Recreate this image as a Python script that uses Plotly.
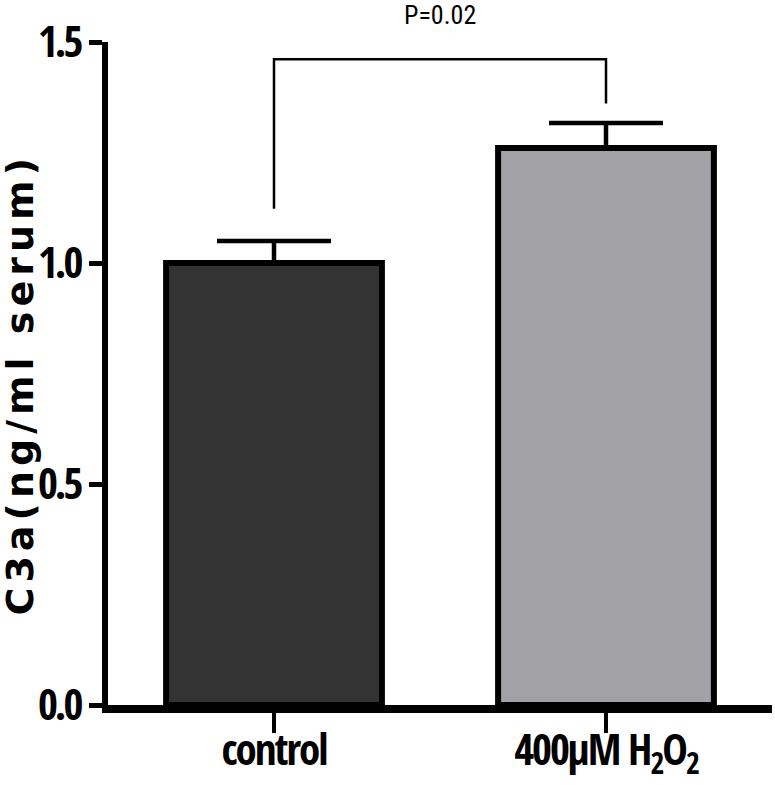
import plotly.graph_objects as go

# ---- data ----
categories = ["control", "400µM H<sub>2</sub>O<sub>2</sub>"]
means = [1.00, 1.26]
sem_up = [0.05, 0.057]
bar_colors = ["#333333", "#a2a1a6"]

y_tickvals = [0.0, 0.5, 1.0, 1.5]
y_ticktext = ["0.0", "0.5", "1.0", "1.5"]

bracket_x = [0, 0, 1, 1]
bracket_y = [1.123, 1.461, 1.461, 1.361]
p_label = "P=0.02"
y_title = "C3a(ng/ml serum)"

COND = "Open Sans Condensed, Roboto Condensed, Liberation Sans, Arial, sans-serif"


def tight(t, ls=-3):
    return f'<span style="letter-spacing:{ls}px">{t}</span>'


fig = go.Figure()
fig.add_trace(go.Bar(
    x=[0, 1], y=means, width=0.65,
    marker=dict(color=bar_colors, line=dict(color="black", width=6)),
    error_y=dict(type="data", symmetric=False, array=sem_up,
                 arrayminus=[0, 0], color="black", thickness=4.5, width=57),
    showlegend=False, hoverinfo="skip",
))
fig.add_trace(go.Scatter(
    x=bracket_x, y=bracket_y, mode="lines",
    line=dict(color="black", width=2.5), showlegend=False, hoverinfo="skip",
))

fig.add_annotation(
    x=0.5, xref="x", y=1.04, yref="paper", text=p_label,
    showarrow=False, xanchor="center", yanchor="middle",
    font=dict(family="Roboto Condensed, Liberation Sans, Arial", size=26, color="black"),
)
fig.add_annotation(
    x=-0.132, xref="paper", y=0.484, yref="paper",
    text=f'<span style="letter-spacing:5px">{y_title}</span>',
    textangle=-90, showarrow=False, xanchor="center", yanchor="middle",
    font=dict(family="DejaVu Sans", size=38, color="black", weight="bold"),
)

tick_font = dict(family=COND, size=43, color="black", weight="bold")

fig.update_xaxes(
    range=[-0.5, 1.5], tickvals=[0, 1], ticktext=[tight(c, -2) for c in categories],
    showline=True, linecolor="black", linewidth=8,
    ticks="outside", ticklen=20, tickwidth=4, tickcolor="black",
    tickfont=tick_font, showgrid=False, zeroline=False, automargin=False,
    ticklabelstandoff=-20,
)
fig.update_yaxes(
    range=[0, 1.5], tickvals=y_tickvals, ticktext=[tight(t, -3) for t in y_ticktext],
    showline=True, linecolor="black", linewidth=6,
    ticks="outside", ticklen=13, tickwidth=5, tickcolor="black",
    tickfont=tick_font, showgrid=False, zeroline=False, automargin=False,
)

fig.update_layout(
    width=775, height=785,
    margin=dict(l=108, r=3, t=42, b=80),
    plot_bgcolor="white", paper_bgcolor="white",
)

fig.write_html("out.html", config={"displayModeBar": False},
               post_script="document.body.style.margin='0';")
